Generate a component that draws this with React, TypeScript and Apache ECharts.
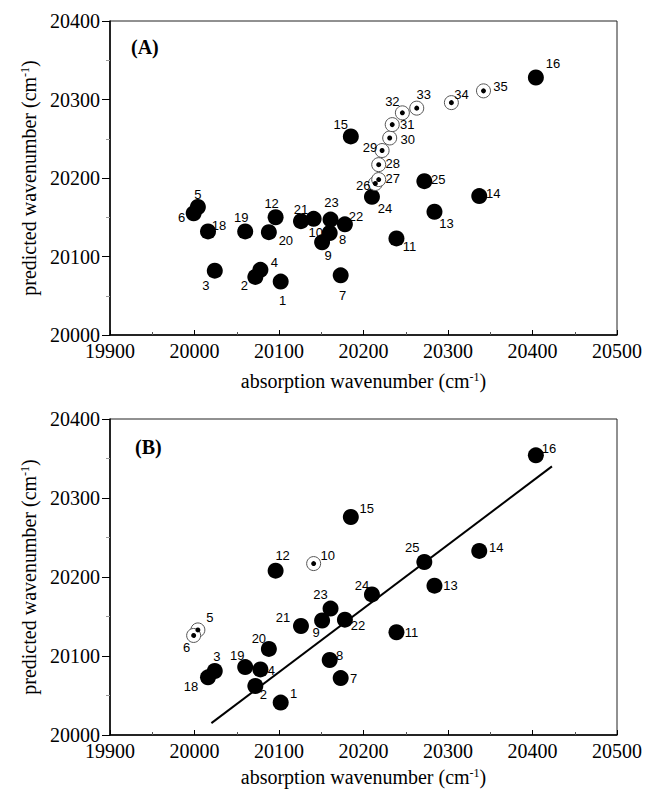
import React, { useEffect, useRef } from "react";
import * as echarts from "echarts";

// Point identifiers (no compound 17)
const pointIds = [
  "1", "2", "3", "4", "5", "6", "7", "8", "9", "10", "11", "12", "13", "14", "15", "16",
  "18", "19", "20", "21", "22", "23", "24", "25",
  "26", "27", "28", "29", "30", "31", "32", "33", "34", "35",
];

// Absorption wavenumber (cm-1), shared by both panels
const absorption = [
  20102, 20072, 20024, 20078, 20004, 19999, 20173, 20160, 20151, 20141, 20239, 20096, 20284, 20337, 20185, 20404,
  20016, 20060, 20088, 20126, 20178, 20161, 20210, 20272,
  20214, 20218, 20218, 20222, 20231, 20234, 20246, 20263, 20304, 20342,
];

// Panel (A) predicted wavenumber
const predictedA = [
  20068, 20074, 20082, 20083, 20163, 20155, 20076, 20130, 20118, 20148, 20123, 20150, 20157, 20177, 20253, 20328,
  20132, 20132, 20131, 20145, 20141, 20147, 20176, 20196,
  20193, 20198, 20217, 20235, 20251, 20268, 20283, 20289, 20296, 20311,
];

// Panel (B) predicted wavenumber (compounds 1-16, 18-25)
const idsB = [
  "1", "2", "3", "4", "5", "6", "7", "8", "9", "10", "11", "12", "13", "14", "15", "16",
  "18", "19", "20", "21", "22", "23", "24", "25",
];
const predictedB = [
  20041, 20062, 20081, 20083, 20133, 20126, 20072, 20095, 20145, 20217, 20130, 20208, 20189, 20233, 20276, 20354,
  20073, 20086, 20109, 20138, 20146, 20160, 20178, 20219,
];

// Open (ringed) markers
const openA = ["26", "27", "28", "29", "30", "31", "32", "33", "34", "35"];
const openB = ["5", "6", "10"];

// Regression line in panel (B)
const fitX = [20020, 20423];
const fitY = [20015, 20340];

// Axis tick values
const xTicks = [19900, 20500, 100];
const yTicks = [20000, 20400, 100];

// Label placement (dx, dy in px from marker centre)
const labelOffsetA: Record<string, number[]> = {
  "1": [2, 19], "2": [-11, 9], "3": [-9, 15], "4": [14, -7], "5": [0, -13], "6": [-12, 4], "7": [2, 20],
  "8": [13, 7], "9": [6, 13], "10": [2, 14], "11": [13, 8], "12": [-4, -14], "13": [12, 12], "14": [14, -3],
  "15": [-10, -12], "16": [17, -14], "18": [11, -6], "19": [-4, -14], "20": [17, 8], "21": [0, -12],
  "22": [11, -8], "23": [1, -17], "24": [13, 12], "25": [14, -2], "26": [-12, 2], "27": [14, -1],
  "28": [14, -1], "29": [-12, -3], "30": [18, 2], "31": [15, 0], "32": [-10, -11], "33": [7, -14],
  "34": [10, -8], "35": [17, -4],
};
const labelOffsetB: Record<string, number[]> = {
  "1": [13, -9], "2": [8, 8], "3": [2, -15], "4": [11, 1], "5": [12, -12], "6": [-7, 12], "7": [13, 0],
  "8": [10, -4], "9": [-6, 12], "10": [14, -8], "11": [15, 0], "12": [7, -15], "13": [16, 0], "14": [17, -3],
  "15": [16, -8], "16": [13, -7], "18": [-17, 9], "19": [-8, -12], "20": [-10, -10], "21": [-18, -8],
  "22": [13, 6], "23": [-10, -14], "24": [-10, -9], "25": [-12, -14],
};

const SERIF = "'Liberation Serif', 'Times New Roman', serif";
const SANS = "'Liberation Sans', Arial, sans-serif";

function buildData(ids: string[], ys: number[], filter: (id: string) => boolean, offsets: Record<string, number[]>, withLabel: boolean) {
  const out: any[] = [];
  ids.forEach((id, i) => {
    if (!filter(id)) return;
    const xi = pointIds.indexOf(id);
    out.push({
      name: id,
      value: [absorption[xi], ys[i]],
      label: withLabel ? { show: true, offset: offsets[id] || [10, -10] } : { show: false },
    });
  });
  return out;
}

const supRich = { sup: { fontFamily: SERIF, fontSize: 12, verticalAlign: "top", lineHeight: 12, color: "#000" } };

function xAxisCfg(gridIndex: number, nameGap: number) {
  return {
    gridIndex,
    type: "value",
    min: xTicks[0],
    max: xTicks[1],
    interval: xTicks[2],
    axisLine: { show: true, onZero: false, lineStyle: { color: "#000", width: 1.5 } },
    axisTick: { show: true, inside: true, length: 5, lineStyle: { color: "#000" } },
    minorTick: { show: true, splitNumber: 2, length: 3, lineStyle: { color: "#555" } },
    splitLine: { show: false },
    axisLabel: { fontFamily: SERIF, fontSize: 20, color: "#000", margin: 6, formatter: (v: number) => String(v) },
    name: "absorption wavenumber (cm{sup|-1})",
    nameLocation: "middle",
    nameGap,
    nameTextStyle: { fontFamily: SERIF, fontSize: 20, color: "#000", rich: supRich },
  };
}

function yAxisCfg(gridIndex: number) {
  return {
    gridIndex,
    type: "value",
    min: yTicks[0],
    max: yTicks[1],
    interval: yTicks[2],
    axisLine: { show: true, onZero: false, lineStyle: { color: "#000", width: 1.5 } },
    axisTick: { show: true, inside: false, length: 8, lineStyle: { color: "#000" } },
    minorTick: { show: true, splitNumber: 2, length: 4, lineStyle: { color: "#999" } },
    splitLine: { show: false },
    axisLabel: { fontFamily: SERIF, fontSize: 20, color: "#000", margin: 10, formatter: (v: number) => String(v) },
    name: "predicted wavenumber (cm{sup|-1})",
    nameLocation: "middle",
    nameGap: 70,
    nameTextStyle: { fontFamily: SERIF, fontSize: 20, color: "#000", rich: supRich },
  };
}

const labelStyle = {
  show: true,
  position: "inside",
  formatter: "{b}",
  fontFamily: SANS,
  fontSize: 13,
  color: "#000",
};

export default function App() {
  const ref = useRef<HTMLDivElement>(null);
  useEffect(() => {
    if (!ref.current) return;
    const chart = echarts.init(ref.current, null, { renderer: "svg" });
    const isOpenA = (id: string) => openA.includes(id);
    const isOpenB = (id: string) => openB.includes(id);

    const solid = { color: "#000", opacity: 1 };
    const ring = { color: "#fff", borderColor: "#555", borderWidth: 1, opacity: 1 };

    const option: any = {
      animation: false,
      backgroundColor: "#fff",
      grid: [
        { left: 110, top: 21, width: 507, height: 314, show: true, borderColor: "#222", borderWidth: 1, containLabel: false },
        { left: 110, top: 419, width: 507, height: 316, show: true, borderColor: "#222", borderWidth: 1, containLabel: false },
      ],
      xAxis: [xAxisCfg(0, 36), xAxisCfg(1, 32)],
      yAxis: [yAxisCfg(0), yAxisCfg(1)],
      graphic: [
        { type: "text", left: 131, top: 37, style: { text: "(A)", font: `bold 20px ${SERIF}`, fill: "#000" } },
        { type: "text", left: 135, top: 437, style: { text: "(B)", font: `bold 20px ${SERIF}`, fill: "#000" } },
      ],
      series: [
        // Panel A solid
        {
          type: "scatter", xAxisIndex: 0, yAxisIndex: 0, symbol: "circle", symbolSize: 16,
          itemStyle: solid, label: labelStyle,
          data: buildData(pointIds, predictedA, (id) => !isOpenA(id), labelOffsetA, true),
        },
        // Panel A open rings
        {
          type: "scatter", xAxisIndex: 0, yAxisIndex: 0, symbol: "circle", symbolSize: 14,
          itemStyle: ring, label: labelStyle,
          data: buildData(pointIds, predictedA, isOpenA, labelOffsetA, true),
        },
        {
          type: "scatter", xAxisIndex: 0, yAxisIndex: 0, symbol: "circle", symbolSize: 5,
          itemStyle: solid,
          data: buildData(pointIds, predictedA, isOpenA, labelOffsetA, false),
        },
        // Panel B fit line
        {
          type: "line", xAxisIndex: 1, yAxisIndex: 1, symbol: "none", silent: true,
          lineStyle: { color: "#000", width: 2 },
          data: fitX.map((x, i) => [x, fitY[i]]),
          z: 1,
        },
        // Panel B solid
        {
          type: "scatter", xAxisIndex: 1, yAxisIndex: 1, symbol: "circle", symbolSize: 16,
          itemStyle: solid, label: labelStyle,
          data: buildData(idsB, predictedB, (id) => !isOpenB(id), labelOffsetB, true),
        },
        {
          type: "scatter", xAxisIndex: 1, yAxisIndex: 1, symbol: "circle", symbolSize: 14,
          itemStyle: ring, label: labelStyle,
          data: buildData(idsB, predictedB, isOpenB, labelOffsetB, true),
        },
        {
          type: "scatter", xAxisIndex: 1, yAxisIndex: 1, symbol: "circle", symbolSize: 5,
          itemStyle: solid,
          data: buildData(idsB, predictedB, isOpenB, labelOffsetB, false),
        },
      ],
    };
    chart.setOption(option);
    return () => chart.dispose();
  }, []);
  return (
    <div
      ref={ref}
      style={{ position: "absolute", left: 0, top: 0, width: 646, height: 792, background: "#fff" }}
    />
  );
}
